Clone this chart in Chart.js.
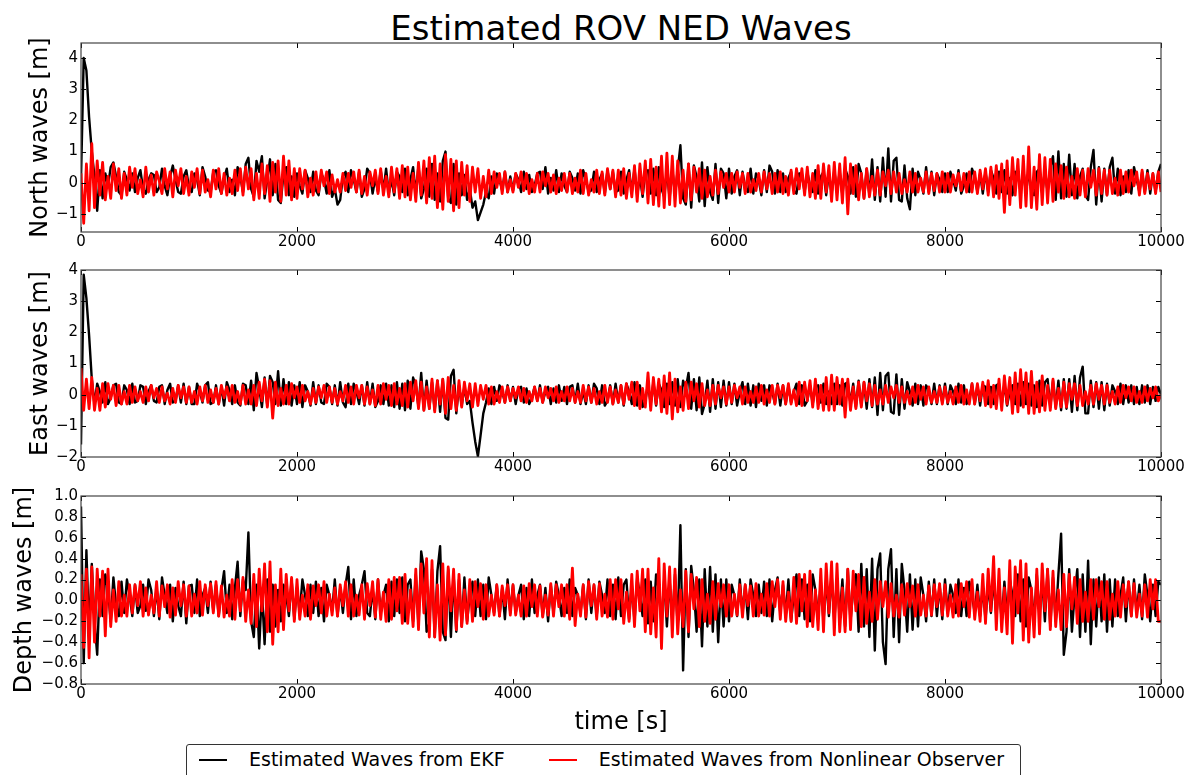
<!DOCTYPE html>
<html>
<head>
<meta charset="utf-8">
<title>Estimated ROV NED Waves</title>
<script src="https://cdn.jsdelivr.net/npm/chart.js@4/dist/chart.umd.min.js"></script>
<style>
  html, body { margin: 0; padding: 0; background: #fff; }
  #page { position: relative; width: 1194px; height: 775px; overflow: hidden; font-family: "DejaVu Sans", sans-serif; }
  #page canvas { position: absolute; left: 0; }
  #title { position: absolute; left: 81px; top: 8px; width: 1080px; text-align: center; font-size: 34px; line-height: 40px; color: #000; }
  #legend { position: absolute; left: 186px; top: 744px; width: 835px; height: 40px; box-sizing: border-box;
            border: 1px solid #333; border-radius: 3px; background: #fff; padding: 5px 0 0 12px; display: flex; }
  #legend .item { display: flex; flex-shrink: 0; white-space: nowrap; align-items: center; height: 19px;
                  font-size: 19px; line-height: 19px; color: #000; margin-right: 44px; }
  #legend .swatch { width: 28px; height: 2px; margin-right: 22px; }
</style>
</head>
<body>
<div id="page">
  <div id="title">Estimated ROV NED Waves</div>
  <canvas id="north" width="1194" height="255" style="top:0"></canvas>
  <canvas id="east" width="1194" height="225" style="top:255px"></canvas>
  <canvas id="depth" width="1194" height="295" style="top:480px"></canvas>
  <div id="legend"></div>
</div>
<script>
// wave estimates sampled every 25 s from 0 to 10000 s
const TIME_END = 10000;
const X_TICKS = [0, 2000, 4000, 6000, 8000, 10000];
const NORTH_TICKS = [-1, 0, 1, 2, 3, 4];
const EAST_TICKS = [-2, -1, 0, 1, 2, 3, 4];
const DEPTH_TICKS = [-0.8, -0.6, -0.4, -0.2, 0.0, 0.2, 0.4, 0.6, 0.8, 1.0];

const SERIES_NAMES = ['Estimated Waves from EKF', 'Estimated Waves from Nonlinear Observer'];
const SERIES_COLORS = ['#000000', '#ff0000'];

const NORTH_EKF = [
  0.1,4.0,3.6,2.1,1.0,0.2,-0.9,0.4,-0.5,0.3,-0.1,0.5,0.65,0.2,-0.3,-0.4,0.35,0.1,-0.25,0.3,
  -0.3,0.15,0.4,-0.2,-0.35,0.1,0.3,0.25,-0.3,-0.15,0.45,-0.1,-0.4,0.2,0.55,0.1,-0.3,-0.35,0.2,0.4,
  -0.15,-0.3,0.3,0.1,-0.4,0.5,0.2,-0.25,-0.3,0.35,0.4,-0.1,-0.35,0.15,0.45,-0.3,0.1,-0.4,0.5,0.2,
  -0.3,0.6,0.8,-0.2,-0.45,0.7,0.35,0.85,-0.5,0.1,0.75,-0.4,0.6,-0.55,-0.65,0.3,0.5,-0.4,0.2,-0.45,
  0.3,-0.1,-0.35,0.4,0.15,-0.3,0.35,-0.25,-0.4,0.3,0.1,-0.35,0.4,-0.45,-0.2,-0.7,-0.55,0.2,0.35,-0.3,
  0.4,0.1,-0.3,0.35,-0.45,-0.2,0.45,0.3,-0.35,0.15,-0.3,0.4,-0.25,0.45,-0.35,0.1,-0.4,0.35,0.2,-0.3,
  0.45,-0.4,0.1,0.5,-0.35,0.55,-0.5,-0.2,0.45,-0.45,0.6,-0.55,0.3,-0.6,0.7,1.0,-0.5,-0.65,0.6,-0.7,
  0.3,-0.4,0.25,-0.55,-0.2,-0.8,-0.6,-1.2,-0.95,-0.7,-0.3,-0.5,0.2,-0.35,0.3,0.1,-0.25,0.35,-0.3,0.2,
  -0.25,0.3,0.1,-0.3,0.35,-0.2,0.25,-0.3,-0.1,0.3,0.35,-0.2,0.5,-0.35,0.15,-0.25,0.4,-0.3,0.3,-0.1,
  -0.3,0.35,0.15,-0.25,0.3,-0.35,0.4,0.1,-0.3,-0.25,0.35,-0.3,0.1,0.3,-0.35,0.4,-0.2,0.35,-0.3,-0.25,
  0.35,-0.35,0.1,0.4,-0.3,0.45,-0.4,0.2,-0.45,0.35,0.4,-0.35,0.45,-0.4,0.5,-0.2,-0.45,0.4,-0.5,0.45,
  -0.4,0.4,1.2,-0.5,-0.7,0.6,-0.8,0.55,0.2,-0.6,0.65,-0.75,0.5,-0.3,-0.55,0.6,-0.65,0.45,0.3,-0.5,
  0.45,-0.35,0.2,0.4,-0.4,0.35,-0.15,-0.3,0.45,-0.35,0.3,0.1,-0.4,0.4,-0.3,0.55,0.35,-0.35,0.4,-0.3,
  0.3,-0.3,0.15,0.35,-0.25,-0.35,0.3,0.25,-0.3,0.35,-0.1,-0.3,0.4,-0.35,0.2,0.35,-0.4,0.3,-0.35,0.4,
  -0.3,0.35,-0.4,0.45,0.2,-0.35,0.5,-0.45,0.6,0.3,-0.5,0.45,-0.4,0.75,-0.55,0.5,-0.6,0.8,-0.45,1.1,
  -0.6,0.7,0.8,-0.55,-0.6,0.55,-0.5,-0.85,0.45,-0.4,0.35,0.1,-0.35,0.5,-0.3,0.35,-0.4,0.3,0.1,-0.3,
  0.3,-0.3,0.35,0.1,-0.25,0.4,-0.35,-0.1,0.3,-0.3,0.45,0.2,-0.3,0.3,-0.35,0.35,-0.3,0.4,0.15,-0.35,
  0.35,-0.3,0.4,-0.35,0.15,-0.4,0.35,0.3,-0.3,0.45,-0.35,0.4,-0.3,-0.4,0.35,0.45,-0.35,0.4,-0.3,0.5,
  0.85,-0.55,1.0,-0.5,0.6,-0.45,0.9,-0.4,0.6,-0.5,0.2,0.45,-0.4,-0.55,0.5,1.05,-0.7,0.5,-0.6,0.45,
  -0.4,0.5,0.8,-0.35,0.45,-0.4,0.2,-0.3,0.4,-0.35,0.5,0.1,-0.3,0.35,-0.3,0.4,-0.35,0.3,-0.3,0.35,
  0.6
];

const NORTH_NLO = [
  0.3,-1.3,0.6,-0.9,1.25,-0.8,0.7,-0.4,0.65,-0.55,0.2,-0.5,0.6,-0.25,0.45,-0.5,0.3,-0.4,0.5,-0.15,
  0.45,-0.35,0.1,-0.45,0.5,-0.3,0.25,-0.4,0.35,0.05,-0.35,0.45,-0.2,0.35,-0.45,0.4,-0.1,0.45,-0.35,0.2,
  -0.4,0.35,-0.15,0.45,-0.35,0.4,-0.3,0.1,-0.45,0.4,-0.2,0.45,-0.35,0.3,-0.4,0.15,-0.35,0.4,-0.25,0.45,
  -0.4,0.5,-0.2,0.45,-0.55,0.3,-0.5,0.6,-0.35,0.55,-0.6,0.65,-0.3,0.7,-0.6,0.85,-0.4,0.7,-0.55,0.45,
  -0.5,0.45,-0.2,0.4,-0.45,0.15,-0.4,0.35,-0.3,0.4,-0.1,0.35,-0.35,0.25,-0.3,0.1,-0.3,0.3,-0.25,0.3,
  -0.15,0.35,-0.3,0.4,-0.35,0.2,-0.4,0.35,-0.1,0.4,-0.35,0.45,-0.4,0.2,-0.45,0.5,-0.3,0.45,-0.5,0.55,
  -0.45,0.5,-0.55,0.3,-0.6,0.65,-0.4,0.7,-0.65,0.8,-0.5,0.85,-0.8,0.6,-0.85,0.9,-0.6,0.75,-0.9,0.7,
  -0.8,0.65,-0.4,0.55,-0.6,0.5,-0.3,0.45,-0.5,0.2,-0.45,0.4,-0.35,0.35,-0.15,0.3,-0.35,0.35,-0.3,0.1,
  -0.3,0.3,-0.15,0.35,-0.25,0.3,-0.35,0.1,-0.3,0.3,-0.3,0.35,-0.1,0.3,-0.3,0.25,-0.35,0.15,-0.25,0.3,
  -0.3,0.3,-0.35,0.15,-0.3,0.4,-0.35,0.3,-0.4,0.1,-0.3,0.4,-0.35,0.35,-0.4,0.45,-0.2,0.4,-0.45,0.4,
  -0.4,0.45,-0.5,0.3,-0.45,0.55,-0.6,0.6,-0.35,0.7,-0.65,0.75,-0.7,0.5,-0.75,0.85,-0.8,0.95,-0.7,0.85,
  -0.75,0.7,-0.65,0.4,-0.6,0.6,-0.55,0.5,-0.3,0.45,-0.5,0.4,-0.45,0.2,-0.4,0.4,-0.35,0.35,-0.15,0.3,
  -0.3,0.3,-0.3,0.35,-0.15,0.3,-0.35,0.3,-0.3,0.1,-0.25,0.3,-0.3,0.35,-0.2,0.3,-0.35,0.3,-0.3,0.35,
  -0.35,0.2,-0.4,0.4,-0.35,0.45,-0.2,0.45,-0.4,0.5,-0.45,0.3,-0.5,0.55,-0.5,0.6,-0.3,0.55,-0.6,0.65,
  -0.55,0.6,-0.65,0.8,-1.0,0.6,-0.35,0.55,-0.55,0.3,-0.5,0.45,-0.45,0.2,-0.4,0.4,-0.4,0.35,-0.1,0.4,
  -0.35,0.35,-0.3,0.3,-0.35,0.1,-0.3,0.35,-0.3,0.3,-0.3,0.15,-0.3,0.35,-0.35,0.3,-0.25,0.3,-0.3,0.35,
  -0.3,0.3,-0.3,0.25,-0.1,0.3,-0.25,0.3,-0.3,0.35,-0.3,0.35,-0.35,0.4,-0.2,0.45,-0.4,0.5,-0.45,0.55,
  -0.5,0.6,-0.95,0.7,-0.7,0.8,-0.4,0.75,-0.8,0.85,-0.75,1.15,-0.8,0.5,-0.85,0.9,-0.7,0.8,-0.65,0.75,
  -0.6,0.6,-0.3,0.55,-0.5,0.5,-0.45,0.2,-0.5,0.45,-0.4,0.4,-0.45,0.45,-0.15,0.4,-0.4,0.45,-0.35,0.4,
  -0.4,0.4,-0.35,0.15,-0.4,0.4,-0.35,0.35,-0.3,0.4,-0.1,0.35,-0.4,0.4,-0.35,0.3,-0.2,0.3,-0.35,0.35,
  -0.3
];

const EAST_EKF = [
  -1.6,3.85,3.1,1.9,0.5,-0.3,0.35,0.1,-0.25,0.4,-0.3,-0.1,0.3,0.35,-0.25,-0.3,0.3,0.15,-0.3,0.35,
  -0.25,-0.2,0.3,0.25,-0.3,0.1,0.3,-0.2,-0.25,0.25,0.3,-0.3,0.15,0.35,-0.25,-0.2,0.3,-0.25,0.35,-0.3,
  0.25,-0.3,-0.3,0.35,0.1,-0.25,0.3,0.4,-0.3,-0.25,0.3,-0.3,0.25,-0.35,0.4,0.15,-0.3,0.3,-0.25,-0.35,
  0.35,0.3,-0.3,0.45,-0.5,0.7,0.2,-0.4,0.55,-0.35,0.6,0.4,-0.3,0.75,-0.35,0.5,-0.3,0.4,-0.35,0.3,
  -0.3,0.4,-0.4,0.3,0.1,-0.35,0.4,-0.3,0.3,-0.25,-0.3,0.35,0.25,-0.3,0.3,-0.35,0.4,-0.25,-0.4,0.35,
  -0.3,0.35,0.1,-0.3,0.3,-0.35,0.4,-0.3,0.35,-0.4,-0.2,0.3,-0.3,0.35,-0.35,0.3,-0.4,0.4,-0.45,0.35,
  -0.5,0.45,-0.45,0.55,0.3,-0.4,0.7,-0.5,0.45,-0.45,0.4,-0.5,0.45,-0.55,0.5,-0.75,-0.8,0.6,0.8,-0.6,
  0.3,-0.35,0.25,-0.3,-0.2,-0.9,-1.5,-1.98,-1.3,-0.6,-0.25,0.2,-0.3,0.25,-0.2,0.3,0.1,-0.25,0.3,-0.2,
  0.25,-0.3,0.2,0.25,-0.25,0.2,-0.3,-0.1,0.25,-0.2,0.3,-0.25,0.1,0.25,-0.3,0.2,-0.25,0.3,-0.2,0.25,
  -0.3,0.25,0.3,-0.25,0.35,-0.3,0.1,-0.3,0.3,-0.25,0.35,0.2,-0.3,0.3,-0.35,-0.2,0.3,-0.3,0.35,-0.25,
  0.3,-0.35,0.35,0.1,-0.3,0.4,-0.35,0.3,-0.4,-0.2,0.35,-0.3,0.4,-0.35,0.35,0.15,-0.4,0.35,-0.3,0.4,
  -0.35,0.5,-0.4,0.45,0.2,0.7,-0.45,0.5,-0.5,0.55,-0.62,-0.3,0.45,-0.55,0.5,-0.45,0.4,-0.4,0.45,-0.35,
  0.4,-0.3,0.35,-0.35,0.1,0.4,-0.3,0.35,-0.35,0.3,-0.4,0.35,-0.2,0.3,-0.35,0.3,0.1,-0.3,0.35,-0.35,
  0.3,-0.3,0.3,-0.25,0.1,0.35,-0.3,0.3,-0.35,-0.2,0.3,-0.3,0.25,0.3,-0.25,0.35,-0.3,0.1,-0.3,0.35,
  -0.3,0.3,-0.35,0.35,0.4,-0.3,0.35,-0.4,0.45,-0.35,0.4,-0.45,0.5,-0.4,0.55,-0.65,0.7,-0.5,0.6,0.7,
  -0.55,-0.6,0.65,-0.65,0.5,-0.45,0.4,0.1,-0.35,0.35,-0.3,0.3,-0.35,0.3,0.15,-0.3,0.35,-0.3,0.3,-0.25,
  0.35,-0.3,0.3,0.1,-0.3,0.35,-0.25,0.3,-0.3,-0.15,0.35,-0.3,0.3,-0.35,0.3,0.25,-0.3,0.25,-0.3,0.3,
  0.35,-0.3,0.35,-0.35,0.1,0.3,-0.3,0.35,-0.35,0.4,-0.3,0.35,-0.35,0.3,-0.4,0.45,-0.35,0.4,0.5,-0.4,
  0.45,-0.4,0.45,-0.5,0.5,-0.45,0.5,-0.55,0.6,-0.5,0.55,0.9,-0.6,-0.6,0.45,-0.4,0.4,-0.45,0.4,-0.5,
  0.35,-0.35,0.3,0.1,-0.3,0.35,-0.3,0.3,-0.25,0.3,-0.3,0.25,-0.3,0.3,-0.25,0.3,-0.3,0.25,-0.2,0.25,
  0.0
];

const EAST_NLO = [
  0.85,-0.5,0.5,-0.45,0.55,-0.5,0.2,-0.5,0.35,-0.4,0.35,-0.15,0.3,-0.35,0.3,-0.3,0.1,-0.3,0.3,-0.25,
  0.25,-0.2,0.1,-0.25,0.25,-0.2,0.3,-0.1,0.2,-0.25,0.25,-0.2,0.05,-0.3,0.2,-0.25,0.3,-0.1,0.25,-0.25,
  0.25,-0.25,0.1,-0.3,0.25,-0.2,0.3,-0.25,0.15,-0.25,0.2,-0.3,0.3,-0.1,0.25,-0.2,0.3,-0.25,0.1,-0.3,
  0.3,-0.3,0.15,-0.3,0.3,-0.35,0.4,-0.2,0.5,-0.4,0.45,-0.75,0.4,-0.35,0.2,-0.3,0.3,-0.3,0.35,-0.1,
  0.25,-0.25,0.3,-0.2,0.1,-0.3,0.2,-0.25,0.25,-0.1,0.3,-0.25,0.25,-0.25,0.2,-0.3,0.1,-0.2,0.3,-0.25,
  0.25,-0.3,0.3,-0.1,0.3,-0.3,0.25,-0.3,0.15,-0.35,0.3,-0.3,0.35,-0.15,0.3,-0.35,0.35,-0.3,0.2,-0.35,
  0.35,-0.4,0.4,-0.2,0.45,-0.45,0.4,-0.5,0.25,-0.45,0.5,-0.55,0.45,-0.3,0.5,-0.6,0.55,-0.45,0.3,-0.5,
  0.45,-0.4,0.4,-0.2,0.35,-0.4,0.35,-0.35,0.3,-0.15,0.3,-0.3,0.25,-0.3,0.1,-0.25,0.25,-0.25,0.25,-0.2,
  0.2,-0.1,0.25,-0.2,0.2,-0.25,0.1,-0.2,0.25,-0.2,0.2,-0.25,0.25,-0.1,0.2,-0.2,0.25,-0.25,0.1,-0.2,
  0.25,-0.2,0.2,-0.25,0.1,-0.25,0.3,-0.2,0.25,-0.25,0.2,-0.3,0.1,-0.25,0.3,-0.25,0.25,-0.3,0.15,-0.25,
  0.3,-0.3,0.35,-0.15,0.4,-0.35,0.4,-0.45,0.2,-0.4,0.7,-0.5,0.55,-0.3,0.5,-0.55,0.6,-0.6,0.7,-0.78,
  0.5,-0.55,0.25,-0.5,0.4,-0.45,0.4,-0.2,0.35,-0.4,0.35,-0.35,0.15,-0.35,0.3,-0.3,0.3,-0.1,0.25,-0.3,
  0.25,-0.25,0.3,-0.1,0.25,-0.3,0.25,-0.25,0.1,-0.25,0.25,-0.25,0.3,-0.3,0.15,-0.25,0.3,-0.3,0.3,-0.1,
  0.3,-0.3,0.35,-0.3,0.15,-0.35,0.4,-0.35,0.4,-0.2,0.45,-0.4,0.5,-0.45,0.3,-0.5,0.55,-0.5,0.63,-0.5,
  0.55,-0.3,0.5,-0.72,0.5,-0.5,0.25,-0.45,0.4,-0.4,0.4,-0.2,0.35,-0.35,0.3,-0.3,0.15,-0.3,0.3,-0.25,
  0.25,-0.1,0.3,-0.25,0.25,-0.25,0.1,-0.3,0.25,-0.25,0.3,-0.15,0.25,-0.3,0.25,-0.25,0.1,-0.25,0.25,-0.3,
  0.25,-0.25,0.1,-0.3,0.25,-0.25,0.3,-0.3,0.15,-0.3,0.35,-0.3,0.35,-0.2,0.4,-0.35,0.45,-0.4,0.3,-0.45,
  0.5,-0.5,0.6,-0.3,0.55,-0.6,0.7,-0.55,0.8,-0.4,0.7,-0.6,0.75,-0.6,0.4,-0.55,0.6,-0.5,0.3,-0.5,
  0.5,-0.45,0.2,-0.4,0.4,-0.4,0.35,-0.15,0.35,-0.35,0.3,-0.35,0.1,-0.3,0.3,-0.3,0.35,-0.15,0.3,-0.3,
  0.3,-0.25,0.1,-0.3,0.25,-0.25,0.3,-0.1,0.25,-0.2,0.25,-0.25,0.1,-0.25,0.25,-0.2,0.2,-0.1,0.25,-0.2,
  0.0
];

const DEPTH_EKF = [
  0.9,-0.6,0.48,-0.3,0.35,-0.2,-0.52,0.2,-0.15,0.25,0.1,-0.2,0.22,-0.05,-0.15,0.18,-0.12,0.2,0.05,-0.15,
  0.15,-0.12,-0.05,0.15,-0.1,0.2,0.1,-0.15,0.12,-0.18,0.22,0.05,-0.12,0.15,-0.2,0.12,-0.05,-0.15,0.18,-0.22,
  0.14,0.15,-0.12,0.2,-0.15,0.05,0.12,-0.12,0.18,-0.1,0.15,-0.15,0.1,0.28,-0.12,0.15,-0.18,0.12,0.37,-0.15,
  0.2,0.1,0.65,-0.2,-0.35,0.15,-0.46,0.1,-0.42,0.2,-0.3,0.15,-0.25,0.1,-0.2,0.15,0.05,-0.15,0.2,-0.18,
  0.12,-0.12,0.2,0.05,-0.15,0.15,-0.12,0.18,-0.15,0.12,-0.2,0.15,0.05,-0.1,0.2,-0.15,0.12,-0.12,0.15,0.32,
  -0.18,0.2,-0.15,0.05,0.15,0.28,-0.12,-0.15,0.12,-0.18,0.2,-0.12,0.05,0.15,-0.2,0.18,-0.15,0.2,-0.12,0.22,
  -0.2,0.15,0.2,-0.2,0.25,-0.25,0.47,0.3,-0.3,-0.22,0.3,-0.35,0.28,0.52,-0.3,-0.38,0.3,-0.35,0.25,-0.3,
  0.2,-0.25,0.22,-0.2,0.05,0.18,-0.15,0.2,-0.15,0.15,-0.18,0.22,0.05,-0.12,0.15,-0.15,0.12,-0.18,0.2,-0.12,
  0.15,-0.12,0.05,0.15,-0.18,0.12,-0.15,0.2,-0.12,0.05,0.15,-0.15,0.12,-0.2,0.15,-0.12,0.18,0.05,-0.15,0.12,
  -0.12,0.2,-0.15,0.12,0.05,-0.12,0.15,-0.18,0.2,-0.12,0.15,-0.15,0.18,0.05,-0.12,0.2,-0.15,0.15,-0.18,0.22,
  -0.15,0.15,0.2,-0.18,0.15,-0.2,0.22,0.05,-0.15,0.2,-0.22,0.18,-0.2,0.25,0.1,-0.22,0.2,-0.25,0.2,-0.2,
  0.25,-0.25,0.72,-0.67,0.3,-0.35,0.33,0.1,-0.3,0.2,-0.44,0.3,-0.25,0.32,-0.3,0.25,-0.4,0.2,-0.25,0.2,
  -0.2,0.15,0.05,-0.15,0.2,-0.12,0.15,-0.18,0.2,0.05,-0.15,0.15,-0.12,0.18,-0.15,0.2,-0.2,0.1,0.22,-0.12,
  0.15,-0.15,0.2,-0.2,0.05,0.25,-0.15,0.2,-0.18,0.15,-0.2,0.25,0.1,-0.15,0.18,-0.2,0.2,-0.15,0.25,-0.2,
  0.2,-0.15,0.2,-0.25,0.3,-0.2,0.1,0.25,-0.3,0.35,-0.25,0.3,-0.35,0.4,-0.48,0.3,0.45,-0.4,-0.61,0.3,
  0.49,-0.35,0.3,-0.4,0.35,0.1,-0.3,0.25,-0.28,0.2,-0.25,0.22,0.05,-0.2,0.18,-0.15,0.2,-0.15,0.15,-0.18,
  0.2,-0.12,0.15,0.05,-0.12,0.2,-0.15,0.12,-0.15,0.18,0.05,-0.12,0.15,-0.15,0.12,-0.18,0.15,-0.12,0.2,-0.15,
  0.15,-0.2,0.18,-0.15,0.2,0.05,-0.15,0.25,-0.2,0.2,-0.25,0.22,0.1,-0.2,0.25,-0.15,0.2,-0.2,0.3,-0.25,
  0.22,-0.2,0.25,0.64,-0.52,-0.3,0.3,-0.3,0.05,0.3,-0.35,0.25,-0.3,0.38,-0.42,0.2,-0.25,0.22,-0.2,0.25,
  -0.3,0.2,-0.25,0.2,-0.15,0.05,0.22,-0.2,0.18,-0.15,0.2,-0.12,0.15,-0.18,0.25,0.05,-0.2,0.15,-0.15,0.18,
  0.15
];

const DEPTH_NLO = [
  0.25,-0.45,0.3,-0.55,0.32,-0.4,0.3,-0.15,0.28,-0.34,0.3,-0.25,0.1,-0.2,0.18,-0.15,0.05,-0.15,0.15,-0.12,
  0.15,-0.05,0.18,-0.15,0.12,-0.14,0.05,-0.12,0.18,-0.15,0.14,-0.06,0.15,-0.16,0.12,-0.14,0.18,-0.05,0.15,-0.15,
  0.14,-0.15,0.06,-0.12,0.18,-0.14,0.15,-0.05,0.16,-0.12,0.18,-0.15,0.14,-0.16,0.05,-0.15,0.2,-0.18,0.2,-0.1,
  0.22,-0.2,0.1,-0.22,0.25,-0.25,0.3,-0.1,0.35,-0.3,0.37,-0.42,0.15,-0.3,0.3,-0.28,0.25,-0.1,0.22,-0.2,
  0.2,-0.18,0.05,-0.15,0.15,-0.18,0.14,-0.05,0.15,-0.12,0.18,-0.15,0.06,-0.14,0.12,-0.15,0.15,-0.05,0.18,-0.15,
  0.15,-0.15,0.05,-0.14,0.15,-0.18,0.16,-0.05,0.18,-0.16,0.2,-0.18,0.08,-0.2,0.2,-0.18,0.22,-0.1,0.22,-0.22,
  0.25,-0.22,0.1,-0.25,0.3,-0.28,0.35,-0.12,0.4,-0.35,0.38,-0.35,0.15,-0.38,0.35,-0.33,0.32,-0.1,0.3,-0.28,
  0.25,-0.25,0.1,-0.22,0.2,-0.2,0.18,-0.06,0.16,-0.18,0.15,-0.15,0.05,-0.14,0.15,-0.15,0.14,-0.05,0.15,-0.14,
  0.15,-0.14,0.05,-0.15,0.14,-0.15,0.16,-0.06,0.15,-0.15,0.14,-0.16,0.05,-0.14,0.16,-0.15,0.15,-0.06,0.15,-0.15,
  0.15,-0.18,0.31,-0.24,0.06,-0.15,0.15,-0.16,0.18,-0.05,0.15,-0.18,0.16,-0.15,0.06,-0.16,0.2,-0.18,0.2,-0.08,
  0.2,-0.22,0.08,-0.2,0.25,-0.25,0.28,-0.1,0.3,-0.3,0.3,-0.32,0.12,-0.35,0.4,-0.46,0.35,-0.15,0.32,-0.35,
  0.3,-0.32,0.1,-0.25,0.28,-0.3,0.25,-0.08,0.22,-0.25,0.2,-0.2,0.06,-0.22,0.18,-0.18,0.16,-0.06,0.15,-0.15,
  0.15,-0.15,0.06,-0.14,0.15,-0.16,0.15,-0.05,0.14,-0.15,0.16,-0.15,0.06,-0.14,0.16,-0.15,0.18,-0.06,0.2,-0.18,
  0.18,-0.2,0.08,-0.2,0.22,-0.22,0.25,-0.1,0.25,-0.25,0.28,-0.25,0.1,-0.28,0.3,-0.3,0.35,-0.12,0.37,-0.33,
  0.35,-0.3,0.12,-0.3,0.3,-0.28,0.28,-0.1,0.25,-0.25,0.22,-0.22,0.08,-0.2,0.2,-0.18,0.18,-0.06,0.18,-0.16,
  0.16,-0.15,0.05,-0.16,0.15,-0.14,0.16,-0.06,0.14,-0.15,0.15,-0.14,0.05,-0.15,0.14,-0.14,0.15,-0.06,0.16,-0.14,
  0.15,-0.15,0.05,-0.16,0.15,-0.15,0.16,-0.06,0.18,-0.16,0.2,-0.18,0.08,-0.2,0.25,-0.22,0.3,-0.1,0.42,-0.28,
  0.3,-0.3,0.12,-0.32,0.38,-0.41,0.32,-0.12,0.38,-0.38,0.35,-0.4,0.12,-0.35,0.3,-0.32,0.35,-0.1,0.3,-0.28,
  0.28,-0.25,0.1,-0.28,0.25,-0.25,0.25,-0.08,0.22,-0.22,0.2,-0.2,0.08,-0.2,0.2,-0.18,0.2,-0.06,0.18,-0.18,
  0.18,-0.18,0.06,-0.15,0.18,-0.16,0.15,-0.06,0.18,-0.15,0.16,-0.16,0.06,-0.15,0.15,-0.16,0.2,-0.08,0.2,-0.2,
  -0.2
];

const FONT_FAMILY = '"DejaVu Sans", sans-serif';
const TICK_LEN = 5;

// spread the samples evenly over the time axis
function toPoints(values) {
  const dt = TIME_END / (values.length - 1);
  return values.map((y, i) => ({ x: i * dt, y }));
}

// matplotlib-style labels: true minus sign
function fmtTick(decimals) {
  return v => {
    const s = Math.abs(v) < 1e-9 ? (0).toFixed(decimals) : Math.abs(v).toFixed(decimals);
    return v < -1e-9 ? '\u2212' + s : s;
  };
}

// box around the plot area plus inward tick marks on all four sides
const frameTicks = {
  id: 'frameTicks',
  afterDraw(chart) {
    const { ctx, chartArea: a, scales: { x, y } } = chart;
    ctx.save();
    ctx.strokeStyle = '#000';
    ctx.lineWidth = 1;
    ctx.beginPath();
    x.ticks.forEach(t => {
      const px = Math.round(x.getPixelForValue(t.value)) + 0.5;
      ctx.moveTo(px, a.top); ctx.lineTo(px, a.top + TICK_LEN);
      ctx.moveTo(px, a.bottom); ctx.lineTo(px, a.bottom - TICK_LEN);
    });
    y.ticks.forEach(t => {
      const py = Math.round(y.getPixelForValue(t.value)) + 0.5;
      ctx.moveTo(a.left, py); ctx.lineTo(a.left + TICK_LEN, py);
      ctx.moveTo(a.right, py); ctx.lineTo(a.right - TICK_LEN, py);
    });
    ctx.stroke();
    ctx.strokeStyle = '#444';
    ctx.lineWidth = 1.2;
    ctx.strokeRect(a.left, a.top, a.right - a.left, a.bottom - a.top);
    ctx.restore();
  }
};

function makePanel(id, cfg) {
  return new Chart(document.getElementById(id), {
    type: 'line',
    data: {
      datasets: [
        { label: SERIES_NAMES[0], data: toPoints(cfg.ekf), borderColor: SERIES_COLORS[0], borderWidth: 2.4, order: 1 },
        { label: SERIES_NAMES[1], data: toPoints(cfg.nlo), borderColor: SERIES_COLORS[1], borderWidth: 2.8, order: 0 },
      ],
    },
    options: {
      responsive: false,
      animation: false,
      events: [],
      parsing: false,
      normalized: true,
      layout: { padding: { top: cfg.top, right: 33, bottom: 0, left: 0 } },
      elements: {
        point: { radius: 0 },
        line: { tension: 0, borderJoinStyle: 'round' },
      },
      plugins: { legend: { display: false }, tooltip: { enabled: false }, title: { display: false } },
      scales: {
        x: {
          type: 'linear',
          min: 0,
          max: TIME_END,
          grid: { display: false, drawTicks: false },
          border: { display: false },
          afterBuildTicks: s => { s.ticks = X_TICKS.map(value => ({ value })); },
          afterFit: s => { s.height = cfg.xHeight; },
          ticks: {
            padding: 1, maxRotation: 0, autoSkip: false, color: '#000',
            font: { family: FONT_FAMILY, size: 15 },
            callback: v => String(v),
          },
          title: cfg.xTitle
            ? { display: true, text: cfg.xTitle, color: '#000',
                font: { family: FONT_FAMILY, size: 24, lineHeight: 1.2 },
                padding: { top: 0, bottom: 38 } }
            : { display: false },
        },
        y: {
          type: 'linear',
          min: cfg.min,
          max: cfg.max,
          grid: { display: false, drawTicks: false },
          border: { display: false },
          afterBuildTicks: s => { s.ticks = cfg.yTicks.map(value => ({ value })); },
          afterFit: s => { s.width = 81; },
          ticks: {
            padding: 3, autoSkip: false, color: '#000',
            font: { family: FONT_FAMILY, size: 15 },
            callback: fmtTick(cfg.decimals),
          },
          title: {
            display: true, text: cfg.yTitle, color: '#000',
            font: { family: FONT_FAMILY, size: 24, lineHeight: 1.2 },
            padding: { top: cfg.yTitlePad, bottom: 0 },
          },
        },
      },
    },
    plugins: [frameTicks],
  });
}

makePanel('north', {
  ekf: NORTH_EKF, nlo: NORTH_NLO, min: -1.58, max: 4.48, yTicks: NORTH_TICKS, decimals: 0,
  yTitle: 'North waves [m]', yTitlePad: 26, top: 43, xHeight: 23,
});
makePanel('east', {
  ekf: EAST_EKF, nlo: EAST_NLO, min: -2, max: 4, yTicks: EAST_TICKS, decimals: 0,
  yTitle: 'East waves [m]', yTitlePad: 26, top: 15, xHeight: 23,
});
makePanel('depth', {
  ekf: DEPTH_EKF, nlo: DEPTH_NLO, min: -0.8, max: 1.0, yTicks: DEPTH_TICKS, decimals: 1,
  yTitle: 'Depth waves [m]', yTitlePad: 10, top: 16, xHeight: 91, xTitle: 'time [s]',
});

// shared legend under the bottom panel
const legend = document.getElementById('legend');
SERIES_NAMES.forEach((name, i) => {
  const item = document.createElement('div');
  item.className = 'item';
  const swatch = document.createElement('span');
  swatch.className = 'swatch';
  swatch.style.background = SERIES_COLORS[i];
  const text = document.createElement('span');
  text.textContent = name;
  item.append(swatch, text);
  legend.appendChild(item);
});
</script>
</body>
</html>
